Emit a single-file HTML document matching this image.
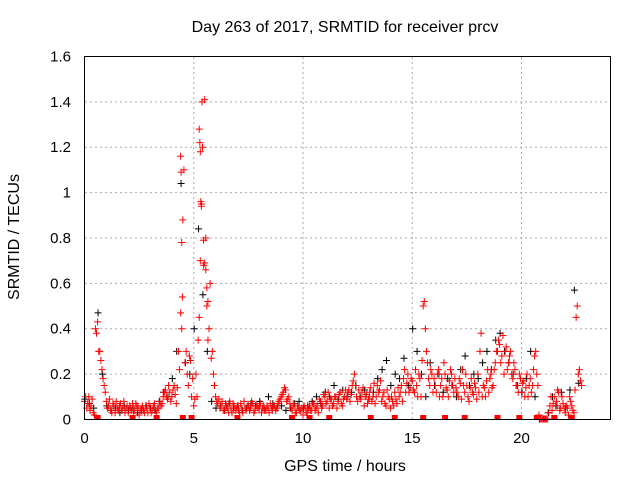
<!DOCTYPE html>
<html><head><meta charset="utf-8"><style>
body{margin:0;background:#fff}
svg{display:block;font-family:"Liberation Sans",sans-serif}
</style></head><body>
<svg id="chart" width="640" height="480">
<text x="345" y="32" text-anchor="middle" font-size="16">Day 263 of 2017, SRMTID for receiver prcv</text>
<text x="345" y="471" text-anchor="middle" font-size="16">GPS time / hours</text>
<text transform="translate(19,237) rotate(-90)" text-anchor="middle" font-size="16">SRMTID / TECUs</text>
<g id="grid"></g>
<g id="ticks"></g>
<g id="marks"></g>
<rect x="84.5" y="56.5" width="526" height="363" fill="none" stroke="#000" stroke-width="1"/>
</svg>
<script>
const xTicks=[0,5,10,15,20];
const yTicks=[0,0.2,0.4,0.6,0.8,1,1.2,1.4,1.6];
const yTickLabels=["0","0.2","0.4","0.6","0.8","1","1.2","1.4","1.6"];
const redA=[.08,.05,.1,.06,.03,.4,.43,.3,.22,.15,.08,.06,.04,.07,.03,.05,.06,.04,.08,.05,.03,.05,.07,.04,.06,.02,.05,.04,.06,.03,.05,.04,.07,.03,.05,.06,.1,.13,.09,.12,.1,.15,.07,.3,.47,.88,.25,.2,.28,.1,.06,.2,.35,.7,1.2,1.41,.5,.4,.27,.2,.1,.07,.05,.08,.04,.06,.03,.05,.07,.04,.06,.03,.05,.08,.04,.06,.05,.07,.04,.06,.05,.03,.06,.04,.05,.07,.04,.06,.05,.08,.1,.12,.13,.09,.07,.04,.06,.03,.05,.04,.02,.05,.03,.06,.04,.07,.05,.03,.08,.06,.1,.08,.05,.09,.07,.1,.08,.12,.06,.1,.09,.13,.11,.17,.15,.08,.1,.12,.06,.11,.09,.14,.1,.07,.15,.13,.08,.12,.06,.1,.05,.08,.12,.07,.1,.15,.18,.12,.2,.14,.17,.12,.15,.2,.1,.5,.4,.25,.15,.2,.18,.12,.22,.15,.1,.2,.13,.17,.2,.12,.14,.1,.16,.22,.12,.15,.08,.18,.11,.14,.2,.3,.1,.14,.17,.12,.2,.15,.25,.3,.33,.28,.2,.32,.25,.3,.18,.22,.15,.2,.12,.17,.14,.1,.18,.15,.28,.2,.02,0,0,0,0,.06,.04,.1,.08,.12,.05,.07,.03,.05,.1,.06,.03,.45,.2,.17];
const redB=[.1,.07,.04,.09,.02,.38,.3,.26,.18,.12,.05,.09,.03,.06,.08,.04,.07,.05,.03,.06,.06,.04,.03,.07,.05,.04,.06,.03,.05,.07,.03,.06,.04,.05,.08,.07,.12,.1,.15,.08,.13,.11,.14,.22,.4,1.1,.3,.15,.26,.18,.09,.1,.45,.95,.68,.8,.35,.6,.3,.15,.08,.09,.06,.04,.07,.05,.08,.03,.06,.05,.04,.07,.03,.05,.06,.04,.08,.03,.06,.05,.07,.05,.04,.06,.03,.05,.06,.04,.07,.09,.11,.14,.08,.1,.05,.07,.03,.06,.04,.05,.06,.03,.05,.04,.07,.04,.06,.09,.05,.11,.07,.12,.09,.06,.1,.05,.11,.07,.09,.13,.12,.08,.15,.2,.1,.13,.09,.14,.1,.07,.12,.08,.16,.1,.12,.17,.1,.07,.13,.09,.1,.06,.09,.14,.12,.08,.22,.16,.12,.18,.13,.22,.1,.18,.26,.52,.3,.18,.22,.12,.15,.2,.1,.18,.25,.14,.1,.22,.15,.18,.12,.18,.09,.15,.2,.1,.14,.12,.16,.09,.12,.38,.15,.1,.22,.18,.14,.22,.3,.35,.25,.37,.3,.22,.28,.2,.25,.15,.12,.18,.16,.1,.2,.15,.12,.22,.3,.15,0,0,0,0,.03,.1,.07,.06,.13,.04,.1,.05,.06,.02,.08,.04,.13,.5,.22,.15];
const blackV=[.09,.07,.05,.47,.2,.06,.04,.05,.03,.06,.04,.05,.03,.04,.06,.05,.04,.08,.12,.1,.18,.3,1.04,.25,.2,.4,.84,.55,.3,.08,.05,.06,.04,.07,.05,.06,.04,.05,.07,.06,.08,.05,.1,.07,.05,.06,.04,.05,.07,.08,.05,.06,.08,.1,.07,.12,.1,.15,.09,.13,.1,.12,.15,.1,.13,.09,.12,.18,.22,.26,.15,.2,.18,.27,.15,.4,.3,.2,.1,.25,.15,.2,.12,.18,.15,.1,.22,.28,.15,.2,.18,.25,.3,.22,.35,.38,.3,.25,.2,.15,.12,.18,.3,.1,0,0,.03,.1,.06,.12,.05,.13,.57,.16];
const peakTimes=[4.4,4.42,4.45,4.48,5.25,5.28,5.3,5.32,5.35,5.38,5.45,5.5,5.55,5.6,5.65];
const peakValues=[1.16,1.09,.78,.54,1.28,1.22,1.18,.96,.94,1.4,.79,.69,.66,.58,.52];
const zeroTimes=[0.6,2.2,3.3,4.5,4.9,7.0,9.5,10.3,11.2,13.1,14.2,15.5,16.5,17.4,18.9,19.9,20.7,21.5,22.3];
const X=t=>84.5+t*21.85, Y=v=>419.5-v*226.9;
const NS="http://www.w3.org/2000/svg";
const grid=document.getElementById('grid'),ticks=document.getElementById('ticks'),marks=document.getElementById('marks');
yTicks.forEach((v,i)=>{const y=Y(v);
 if(i>0&&i<yTicks.length-1){const l=document.createElementNS(NS,'line');l.setAttribute('x1',85);l.setAttribute('x2',610);l.setAttribute('y1',y);l.setAttribute('y2',y);l.setAttribute('stroke','#aaa');l.setAttribute('stroke-dasharray','2,3');
 
 grid.appendChild(l);}
 const t=document.createElementNS(NS,'text');t.setAttribute('x',71);t.setAttribute('y',y+5);t.setAttribute('text-anchor','end');t.setAttribute('font-size','15');t.textContent=yTickLabels[i];
 
 ticks.appendChild(t);});
xTicks.forEach(v=>{const x=X(v);
 if(v>0){const l=document.createElementNS(NS,'line');l.setAttribute('x1',x);l.setAttribute('x2',x);l.setAttribute('y1',57);l.setAttribute('y2',419);l.setAttribute('stroke','#aaa');l.setAttribute('stroke-dasharray','2,3');
 
 grid.appendChild(l);}
 const t=document.createElementNS(NS,'text');t.setAttribute('x',x);t.setAttribute('y',443);t.setAttribute('text-anchor','middle');t.setAttribute('font-size','15');t.textContent=String(v);
 
 ticks.appendChild(t);});
function plus(t,v,c,name){const x=X(t),y=Math.min(Y(v),419);const p=document.createElementNS(NS,'path');
 p.setAttribute('d',`M${x-3.5} ${y}H${x+3.5}M${x} ${y-3.5}V${y+3.5}`);p.setAttribute('stroke',c);p.setAttribute('stroke-width','1');
 
 marks.appendChild(p);}
blackV.forEach((v,i)=>plus(i*0.2+0.02,v,'#000','black-point'));
redA.forEach((v,i)=>plus(i*0.1,v,'#f00','red-point'));
redB.forEach((v,i)=>plus(i*0.1+0.05,v,'#f00','red-point'));
peakTimes.forEach((t,i)=>plus(t,peakValues[i],'#f00','red-peak-point'));
zeroTimes.forEach(t=>{const r=document.createElementNS(NS,'rect');r.setAttribute('x',X(t)-3);r.setAttribute('y',415);r.setAttribute('width',6);r.setAttribute('height',5);r.setAttribute('fill','#f00');
 
 marks.appendChild(r);});
</script>
</body></html>
